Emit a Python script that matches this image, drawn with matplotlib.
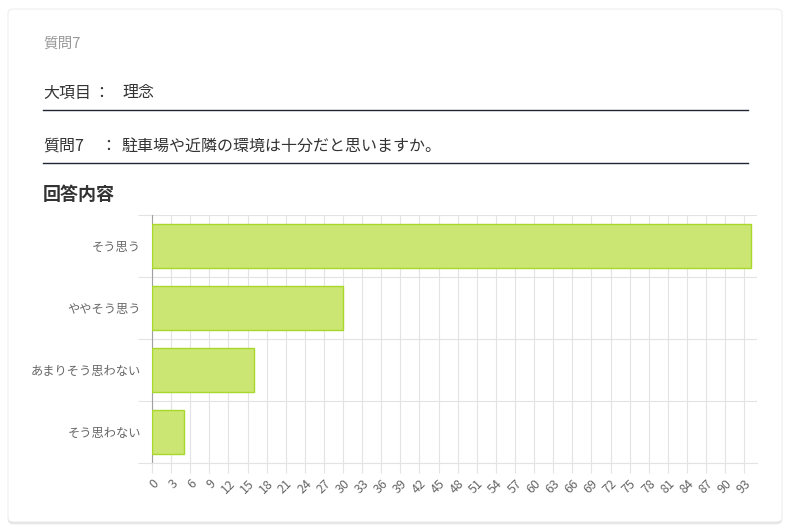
import matplotlib.pyplot as plt
from matplotlib.patches import FancyBboxPatch

plt.rcParams['font.family'] = ['Noto Sans CJK JP', 'DejaVu Sans']

# Data
categories = ["そう思う", "ややそう思う", "あまりそう思わない", "そう思わない"]
counts = [94, 30, 16, 5]
x_ticks = list(range(0, 94, 3))

W, H = 790, 530
fig = plt.figure(figsize=(W / 100, H / 100), dpi=100)
fig.patch.set_facecolor('white')


def fx(px):
    return px / W


def fy(py):
    return 1 - py / H


# card with a soft shadow
for off, a in [(3, 0.04), (2, 0.05), (1, 0.06)]:
    fig.patches.append(FancyBboxPatch((fx(8), fy(522 + off)), fx(774), (513 + off) / H,
                                      boxstyle="round,pad=0,rounding_size=0.008",
                                      transform=fig.transFigure, facecolor='black',
                                      edgecolor='none', alpha=a, zorder=0))
fig.patches.append(FancyBboxPatch((fx(8), fy(522)), fx(774), 513 / H,
                                  boxstyle="round,pad=0,rounding_size=0.008",
                                  transform=fig.transFigure, facecolor='white',
                                  edgecolor='#eeeeee', lw=0.8, zorder=1))

# header texts
fs = 11.5
fig.text(fx(43), fy(44), "質問7", fontsize=10.5, color='#999999', va='center')
fig.text(fx(43), fy(93), "大項目", fontsize=fs, color='#333333', va='center')
fig.text(fx(93), fy(93), "：", fontsize=fs, color='#333333', va='center')
fig.text(fx(122), fy(93), "理念", fontsize=fs, color='#333333', va='center')
fig.add_artist(plt.Line2D([fx(43), fx(748)], [fy(110), fy(110)], color='#1f2633', lw=1.0))

fig.text(fx(43), fy(146), "質問7", fontsize=fs, color='#333333', va='center')
fig.text(fx(100), fy(146), "：", fontsize=fs, color='#333333', va='center')
fig.text(fx(122), fy(146), "駐車場や近隣の環境は十分だと思いますか。", fontsize=fs,
         color='#333333', va='center')
fig.add_artist(plt.Line2D([fx(43), fx(748)], [fy(163), fy(163)], color='#1f2633', lw=1.0))

fig.text(fx(43), fy(195), "回答内容", fontsize=13, color='#333333', va='center',
         fontweight='bold')

# chart
ax = fig.add_axes([fx(152), fy(463), fx(757 - 152), (463 - 215) / H])
ax.set_zorder(2)
ax.set_facecolor('none')
ypos = list(range(len(categories)))
ax.barh(ypos, counts, height=0.72, color='#cbe672', edgecolor='#a8d82c', linewidth=1, zorder=3)

ax.set_xlim(0, 95)
ax.set_ylim(len(categories) - 0.5, -0.5)
ax.set_yticks(ypos)
ax.set_yticklabels(categories)
ax.set_yticks([i - 0.5 for i in range(len(categories) + 1)], minor=True)
ax.tick_params(axis='y', which='major', length=0, pad=8, labelsize=8.8, labelcolor='#666666')
ax.tick_params(axis='y', which='minor', length=10, color='#e3e3e3', width=0.8)
ax.grid(axis='y', which='minor', color='#e3e3e3', lw=0.8)

ax.set_xticks(x_ticks)
ax.set_xticklabels([str(v) for v in x_ticks], rotation=45, ha='right', va='top',
                   rotation_mode='anchor')
ax.tick_params(axis='x', length=7, color='#e3e3e3', width=0.8, pad=3,
               labelsize=9, labelcolor='#666666')
ax.grid(axis='x', which='major', color='#e3e3e3', lw=0.8)
ax.set_axisbelow(True)

for s in ['top', 'right']:
    ax.spines[s].set_visible(False)
ax.spines['bottom'].set_color('#e3e3e3')
ax.spines['bottom'].set_linewidth(0.8)
ax.spines['left'].set_color('#a0a0a0')
ax.spines['left'].set_linewidth(0.8)

fig.savefig('out.png', dpi=100)
